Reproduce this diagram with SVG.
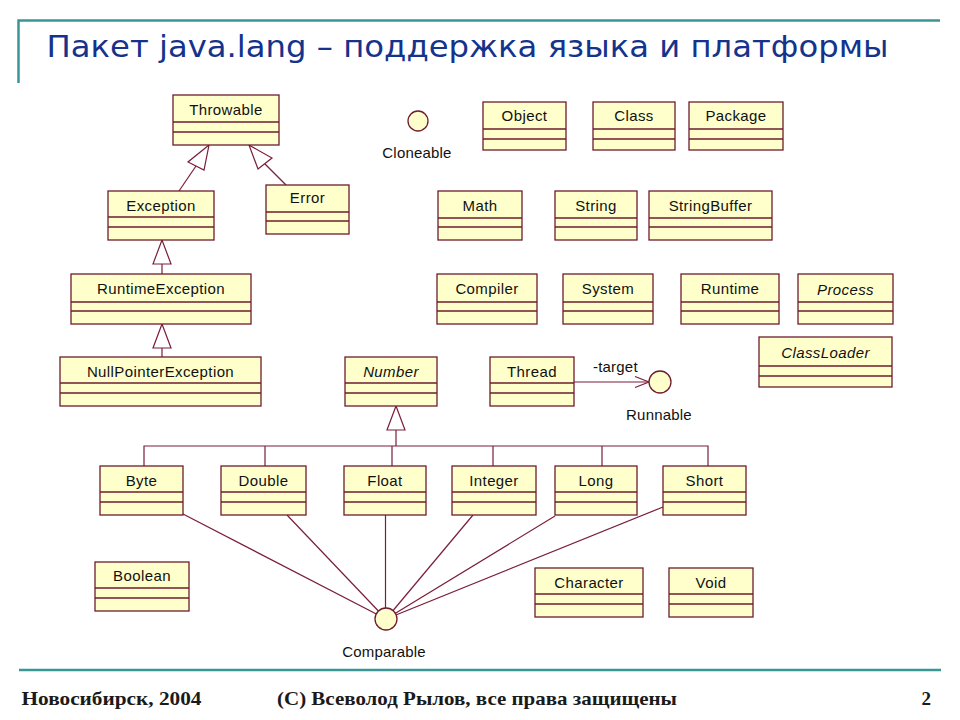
<svg xmlns="http://www.w3.org/2000/svg" width="960" height="720" viewBox="0 0 960 720">
<defs>
<style>
.box{fill:#ffffcc;stroke:#6e1c2e;stroke-width:1.3}
.sep{stroke:#6e1c2e;stroke-width:1.3}
.t{font-family:"Liberation Sans",Arial,sans-serif;font-size:15px;letter-spacing:0.4px;fill:#111;text-anchor:middle}
.i{font-style:italic}
.lbl{font-family:"Liberation Sans",Arial,sans-serif;font-size:15px;letter-spacing:0.2px;fill:#111}
.c{stroke:#7a1e3a;stroke-width:1.2;fill:none}
.tri{stroke:#7a1e3a;stroke-width:1.2;fill:#ffffff}
.iface{fill:#ffffcc;stroke:#6e1c2e;stroke-width:1.3}
.frame{stroke:#3a9694;fill:none}
.foot{font-family:"Liberation Serif","Times New Roman",serif;font-size:19px;font-weight:bold;fill:#1a1a1a}
</style>
</defs>
<rect width="960" height="720" fill="#ffffff"/>
<!-- frame -->
<polyline class="frame" stroke-width="2.5" points="18.5,83 18.5,20.5 940,20.5"/>
<line class="frame" stroke-width="2.5" x1="19" y1="670" x2="941" y2="670"/>
<text x="46.5" y="57" font-family="'DejaVu Sans',Tahoma,sans-serif" font-size="30" fill="#15338c" textLength="842" lengthAdjust="spacingAndGlyphs">Пакет java.lang – поддержка языка и платформы</text>
<text class="foot" x="21.5" y="705" textLength="180" lengthAdjust="spacingAndGlyphs">Новосибирск, 2004</text>
<text class="foot" x="277" y="705" textLength="400" lengthAdjust="spacingAndGlyphs">(С) Всеволод Рылов, все права защищены</text>
<text class="foot" x="921.5" y="705">2</text>

<g id="connectors">
<line class="c" x1="196" y1="166" x2="179" y2="191"/>
<polygon class="tri" points="209,145 188,162 204,170"/>
<line class="c" x1="265" y1="164" x2="286" y2="185"/>
<polygon class="tri" points="249,145 258,169 272,158"/>
<line class="c" x1="162" y1="264" x2="162" y2="274"/>
<polygon class="tri" points="162,240 153,264 171,264"/>
<line class="c" x1="162" y1="348" x2="162" y2="357"/>
<polygon class="tri" points="162,324 153,348 171,348"/>
<line class="c" x1="396" y1="430" x2="396" y2="446"/>
<polygon class="tri" points="396,406 387,430 405,430"/>
<polyline class="c" points="144,466 144,446 708,446 708,466"/>
<line class="c" x1="265" y1="446" x2="265" y2="466"/>
<line class="c" x1="392" y1="446" x2="392" y2="466"/>
<line class="c" x1="493" y1="446" x2="493" y2="466"/>
<line class="c" x1="602" y1="446" x2="602" y2="466"/>
<line class="c" x1="574" y1="382" x2="649" y2="382"/>
<polyline class="c" points="635,376.5 649,382 635,387.5"/>
<line class="c" x1="183" y1="514" x2="386" y2="619"/>
<line class="c" x1="287" y1="515" x2="386" y2="619"/>
<line class="c" x1="385.5" y1="515" x2="385.5" y2="619"/>
<line class="c" x1="473" y1="515" x2="386" y2="619"/>
<line class="c" x1="555" y1="516" x2="386" y2="619"/>
<line class="c" x1="663" y1="507" x2="386" y2="619"/>
</g>

<g id="Throwable"><rect class="box" x="173" y="95" width="106" height="50"/><line class="sep" x1="173" y1="122" x2="279" y2="122"/><line class="sep" x1="173" y1="132" x2="279" y2="132"/><text class="t" x="226" y="115">Throwable</text></g>
<g id="Exception"><rect class="box" x="108" y="191" width="106" height="49"/><line class="sep" x1="108" y1="217" x2="214" y2="217"/><line class="sep" x1="108" y1="227" x2="214" y2="227"/><text class="t" x="161" y="211">Exception</text></g>
<g id="Error"><rect class="box" x="266" y="185" width="83" height="49"/><line class="sep" x1="266" y1="212" x2="349" y2="212"/><line class="sep" x1="266" y1="221" x2="349" y2="221"/><text class="t" x="307.5" y="203">Error</text></g>
<g id="RuntimeException"><rect class="box" x="71" y="274" width="180" height="50"/><line class="sep" x1="71" y1="302" x2="251" y2="302"/><line class="sep" x1="71" y1="311" x2="251" y2="311"/><text class="t" x="161" y="294">RuntimeException</text></g>
<g id="NullPointerException"><rect class="box" x="60" y="357" width="201" height="49"/><line class="sep" x1="60" y1="383" x2="261" y2="383"/><line class="sep" x1="60" y1="393" x2="261" y2="393"/><text class="t" x="160.5" y="377">NullPointerException</text></g>
<g id="Number"><rect class="box" x="345" y="357" width="92" height="49"/><line class="sep" x1="345" y1="383" x2="437" y2="383"/><line class="sep" x1="345" y1="393" x2="437" y2="393"/><text class="t i" x="391" y="377">Number</text></g>

<g id="Cloneable"><circle class="iface" cx="418" cy="121" r="10"/><text class="lbl" x="417" y="158" text-anchor="middle">Cloneable</text></g>
<g id="Object"><rect class="box" x="483" y="102" width="83" height="48"/><line class="sep" x1="483" y1="129" x2="566" y2="129"/><line class="sep" x1="483" y1="139" x2="566" y2="139"/><text class="t" x="524.5" y="121">Object</text></g>
<g id="Class"><rect class="box" x="593" y="102" width="82" height="48"/><line class="sep" x1="593" y1="129" x2="675" y2="129"/><line class="sep" x1="593" y1="139" x2="675" y2="139"/><text class="t" x="634" y="121">Class</text></g>
<g id="Package"><rect class="box" x="689" y="102" width="94" height="48"/><line class="sep" x1="689" y1="129" x2="783" y2="129"/><line class="sep" x1="689" y1="139" x2="783" y2="139"/><text class="t" x="736" y="121">Package</text></g>
<g id="Math"><rect class="box" x="438" y="191" width="84" height="49"/><line class="sep" x1="438" y1="218" x2="522" y2="218"/><line class="sep" x1="438" y1="227" x2="522" y2="227"/><text class="t" x="480" y="211">Math</text></g>
<g id="String"><rect class="box" x="555" y="191" width="82" height="49"/><line class="sep" x1="555" y1="218" x2="637" y2="218"/><line class="sep" x1="555" y1="227" x2="637" y2="227"/><text class="t" x="596" y="211">String</text></g>
<g id="StringBuffer"><rect class="box" x="649" y="191" width="123" height="49"/><line class="sep" x1="649" y1="218" x2="772" y2="218"/><line class="sep" x1="649" y1="227" x2="772" y2="227"/><text class="t" x="710.5" y="211">StringBuffer</text></g>
<g id="Compiler"><rect class="box" x="437" y="274" width="100" height="50"/><line class="sep" x1="437" y1="302" x2="537" y2="302"/><line class="sep" x1="437" y1="311" x2="537" y2="311"/><text class="t" x="487" y="294">Compiler</text></g>
<g id="System"><rect class="box" x="563" y="274" width="90" height="50"/><line class="sep" x1="563" y1="302" x2="653" y2="302"/><line class="sep" x1="563" y1="311" x2="653" y2="311"/><text class="t" x="608" y="294">System</text></g>
<g id="Runtime"><rect class="box" x="681" y="274" width="98" height="50"/><line class="sep" x1="681" y1="302" x2="779" y2="302"/><line class="sep" x1="681" y1="311" x2="779" y2="311"/><text class="t" x="730" y="294">Runtime</text></g>
<g id="Process"><rect class="box" x="798" y="274" width="95" height="50"/><line class="sep" x1="798" y1="302" x2="893" y2="302"/><line class="sep" x1="798" y1="311" x2="893" y2="311"/><text class="t i" x="845.5" y="295">Process</text></g>
<g id="ClassLoader"><rect class="box" x="759" y="337" width="133" height="50"/><line class="sep" x1="759" y1="366" x2="892" y2="366"/><line class="sep" x1="759" y1="376" x2="892" y2="376"/><text class="t i" x="825.5" y="358">ClassLoader</text></g>
<g id="Thread"><rect class="box" x="490" y="357" width="84" height="49"/><line class="sep" x1="490" y1="383" x2="574" y2="383"/><line class="sep" x1="490" y1="393" x2="574" y2="393"/><text class="t" x="532" y="377">Thread</text></g>
<text class="lbl" x="593" y="372">-target</text>
<g id="Runnable"><circle class="iface" cx="660" cy="382" r="11"/><text class="lbl" x="659" y="420" text-anchor="middle">Runnable</text></g>

<g id="Byte"><rect class="box" x="100" y="466" width="83" height="49"/><line class="sep" x1="100" y1="492" x2="183" y2="492"/><line class="sep" x1="100" y1="502" x2="183" y2="502"/><text class="t" x="141.5" y="486">Byte</text></g>
<g id="Double"><rect class="box" x="221" y="466" width="85" height="49"/><line class="sep" x1="221" y1="492" x2="306" y2="492"/><line class="sep" x1="221" y1="502" x2="306" y2="502"/><text class="t" x="263.5" y="486">Double</text></g>
<g id="Float"><rect class="box" x="344" y="466" width="82" height="49"/><line class="sep" x1="344" y1="492" x2="426" y2="492"/><line class="sep" x1="344" y1="502" x2="426" y2="502"/><text class="t" x="385" y="486">Float</text></g>
<g id="Integer"><rect class="box" x="452" y="466" width="84" height="49"/><line class="sep" x1="452" y1="492" x2="536" y2="492"/><line class="sep" x1="452" y1="502" x2="536" y2="502"/><text class="t" x="494" y="486">Integer</text></g>
<g id="Long"><rect class="box" x="555" y="466" width="82" height="49"/><line class="sep" x1="555" y1="492" x2="637" y2="492"/><line class="sep" x1="555" y1="502" x2="637" y2="502"/><text class="t" x="596" y="486">Long</text></g>
<g id="Short"><rect class="box" x="663" y="466" width="83" height="49"/><line class="sep" x1="663" y1="492" x2="746" y2="492"/><line class="sep" x1="663" y1="502" x2="746" y2="502"/><text class="t" x="704.5" y="486">Short</text></g>
<g id="Boolean"><rect class="box" x="95" y="562" width="94" height="49"/><line class="sep" x1="95" y1="588" x2="189" y2="588"/><line class="sep" x1="95" y1="598" x2="189" y2="598"/><text class="t" x="142" y="581">Boolean</text></g>
<g id="Character"><rect class="box" x="535" y="568" width="108" height="49"/><line class="sep" x1="535" y1="594" x2="643" y2="594"/><line class="sep" x1="535" y1="604" x2="643" y2="604"/><text class="t" x="589" y="588">Character</text></g>
<g id="Void"><rect class="box" x="669" y="568" width="84" height="49"/><line class="sep" x1="669" y1="594" x2="753" y2="594"/><line class="sep" x1="669" y1="604" x2="753" y2="604"/><text class="t" x="711" y="588">Void</text></g>
<g id="Comparable"><circle class="iface" cx="386" cy="619" r="11"/><text class="lbl" x="384" y="657" text-anchor="middle">Comparable</text></g>
</svg>
